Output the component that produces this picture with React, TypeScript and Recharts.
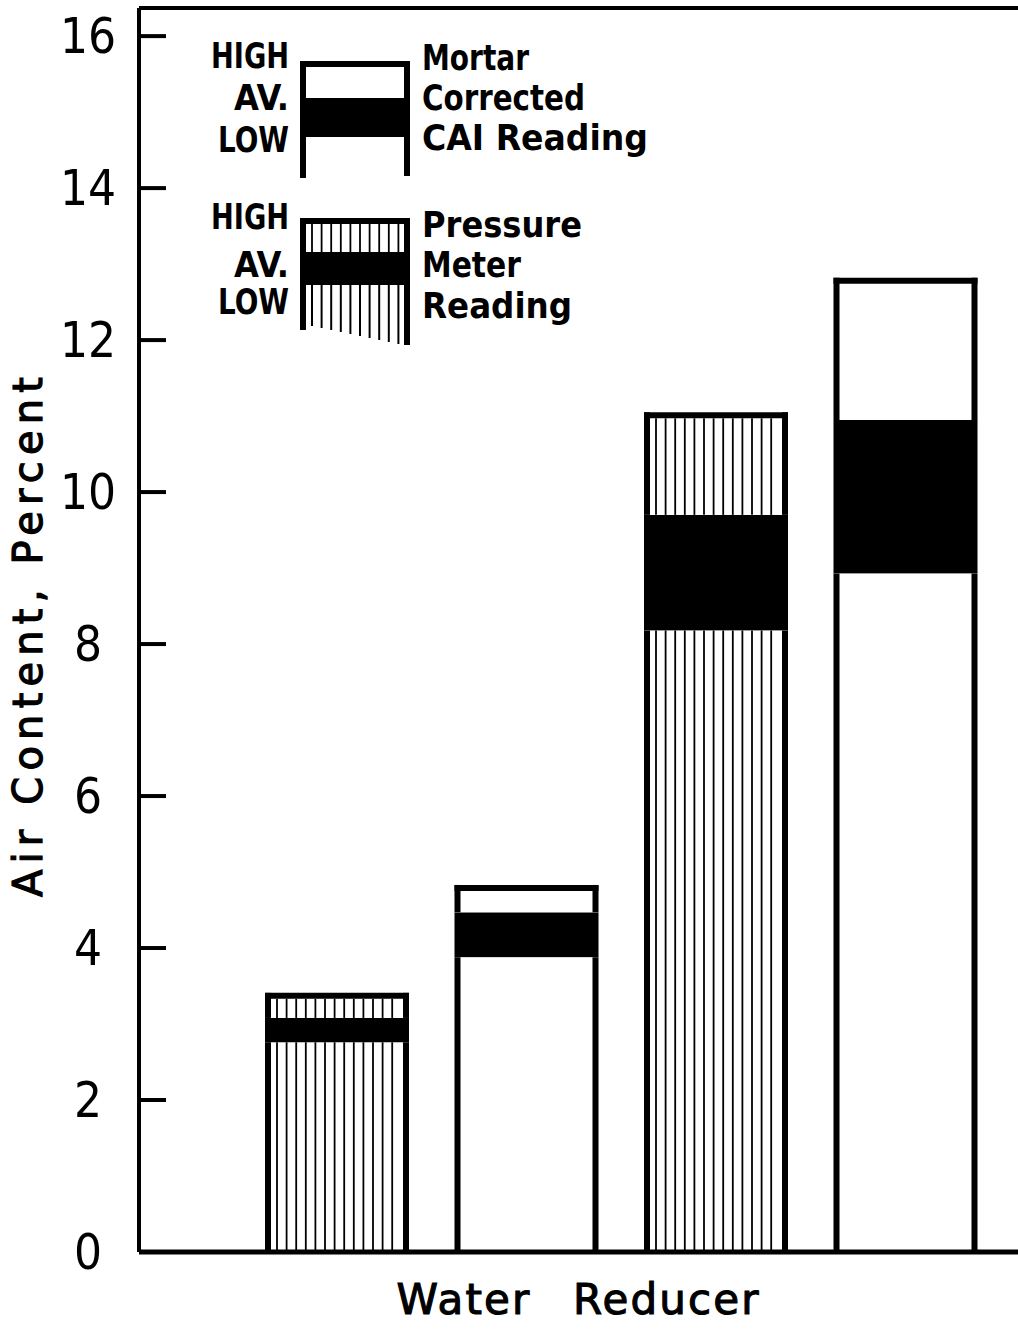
import { Bar, BarChart, Label, Legend, ReferenceLine, XAxis, YAxis } from "recharts"

// four water-reducer samples, alternating test method
const samples = ["1", "2", "3", "4"]
const methods = ["pressure", "mortar", "pressure", "mortar"]
const lowValues = [2.76, 3.88, 8.18, 8.93]
const avValues = [3.08, 4.47, 9.7, 10.95]
const highValues = [3.41, 4.83, 11.05, 12.82]
const yTicks = [0, 2, 4, 6, 8, 10, 12, 14, 16]

const Y_MAX = 16.37
const AXIS_X = 139
const INK = "#000"
const EDGE = 6
const NUM_FONT = "'DejaVu Sans Condensed', 'DejaVu Sans', sans-serif"
const TITLE_FONT = "'DejaVu Sans', sans-serif"
const NARROW_FONT = "'DejaVu Sans Condensed', 'DejaVu Sans', sans-serif"

const data = samples.map((s, i) => ({
  sample: s,
  method: methods[i],
  low: lowValues[i],
  band: avValues[i] - lowValues[i],
  upper: highValues[i] - avValues[i],
}))

function hatch(x: number, y: number, w: number, h: number, keyBase: string) {
  const out = []
  let n = 0
  for (let lx = x + 6; lx < x + w - 3; lx += 9.6) {
    out.push(
      <line key={keyBase + n++} x1={lx} x2={lx} y1={y} y2={y + h} stroke={INK} strokeWidth={1.8} />
    )
  }
  return out
}

function LowerShape(props: any) {
  const { x, y, width, height, payload } = props
  return (
    <g>
      <rect x={x} y={y} width={width} height={height} fill="#fff" />
      {payload.method === "pressure" && hatch(x + EDGE, y, width - 2 * EDGE, height, "l")}
      <line x1={x + EDGE / 2} x2={x + EDGE / 2} y1={y} y2={y + height} stroke={INK} strokeWidth={EDGE} />
      <line x1={x + width - EDGE / 2} x2={x + width - EDGE / 2} y1={y} y2={y + height} stroke={INK} strokeWidth={EDGE} />
    </g>
  )
}

function BandShape(props: any) {
  const { x, y, width, height } = props
  return <rect x={x} y={y} width={width} height={height} fill={INK} />
}

function UpperShape(props: any) {
  const { x, y, width, height, payload } = props
  return (
    <g>
      <rect x={x} y={y} width={width} height={height} fill="#fff" />
      {payload.method === "pressure" && hatch(x + EDGE, y + EDGE, width - 2 * EDGE, height - EDGE, "u")}
      <line x1={x + EDGE / 2} x2={x + EDGE / 2} y1={y} y2={y + height} stroke={INK} strokeWidth={EDGE} />
      <line x1={x + width - EDGE / 2} x2={x + width - EDGE / 2} y1={y} y2={y + height} stroke={INK} strokeWidth={EDGE} />
      <line x1={x} x2={x + width} y1={y + EDGE / 2} y2={y + EDGE / 2} stroke={INK} strokeWidth={EDGE} />
    </g>
  )
}

function YTick(props: any) {
  const { y, payload } = props
  return (
    <g>
      <line x1={AXIS_X} x2={AXIS_X + 27} y1={y} y2={y} stroke={INK} strokeWidth={4} />
      <text x={88} y={y} textAnchor="middle" dominantBaseline="central" fontSize={49} fontFamily={NUM_FONT} fill={INK}>
        {payload.value}
      </text>
    </g>
  )
}

function renderXTitle(props: any) {
  const vb = props.viewBox
  return (
    <text
      x={vb.x + vb.width / 2 - 1}
      y={vb.y + 47}
      textAnchor="middle"
      dominantBaseline="central"
      fontSize={42}
      fontFamily={TITLE_FONT}
      textLength={362}
      lengthAdjust="spacing"
      stroke={INK}
      strokeWidth={1.1}
      style={{ wordSpacing: 26 }}
      fill={INK}
    >
      Water Reducer
    </text>
  )
}

function renderYTitle() {
  return (
    <text
      x={28}
      y={637}
      transform="rotate(-90 28 637)"
      textAnchor="middle"
      dominantBaseline="central"
      fontSize={40}
      fontFamily={TITLE_FONT}
      textLength={520}
      lengthAdjust="spacing"
      stroke={INK}
      strokeWidth={1.2}
      fill={INK}
    >
      Air Content, Percent
    </text>
  )
}

// legend labels: [text, x, y, width, anchor]
const legendLabels: [string, number, number, number, "start" | "end"][] = [
  ["HIGH", 289, 56, 78, "end"],
  ["AV.", 289, 98, 55, "end"],
  ["LOW", 289, 140, 71, "end"],
  ["HIGH", 289, 217, 78, "end"],
  ["AV.", 289, 265, 55, "end"],
  ["LOW", 289, 302, 71, "end"],
  ["Mortar", 422, 58, 107, "start"],
  ["Corrected", 422, 98, 163, "start"],
  ["CAI Reading", 422, 138, 226, "start"],
  ["Pressure", 422, 225, 160, "start"],
  ["Meter", 422, 265, 99, "start"],
  ["Reading", 422, 306, 150, "start"],
]

function LegendBlock() {
  const lower = [0, 1, 2, 3, 4, 5, 6, 7, 8, 9]
  return (
    <svg width={700} height={360} style={{ display: "block" }}>
      {/* mortar swatch */}
      <line x1={300} x2={410} y1={64} y2={64} stroke={INK} strokeWidth={EDGE} />
      <line x1={303} x2={303} y1={61} y2={178} stroke={INK} strokeWidth={EDGE} />
      <line x1={407} x2={407} y1={61} y2={176} stroke={INK} strokeWidth={EDGE} />
      <rect x={300} y={98} width={110} height={39} fill={INK} />
      {/* pressure meter swatch */}
      {hatch(306, 224, 98, 28, "a")}
      {lower.map((i) => (
        <line key={"b" + i} x1={312 + i * 9.6} x2={312 + i * 9.6} y1={285} y2={326 + i * 2} stroke={INK} strokeWidth={2} />
      ))}
      <line x1={300} x2={410} y1={221} y2={221} stroke={INK} strokeWidth={EDGE} />
      <line x1={303} x2={303} y1={218} y2={330} stroke={INK} strokeWidth={EDGE} />
      <line x1={407} x2={407} y1={218} y2={345} stroke={INK} strokeWidth={EDGE} />
      <rect x={300} y={252} width={110} height={33} fill={INK} />

      {legendLabels.map(([t, x, y, w, anchor], i) => (
        <text
          key={i}
          x={x}
          y={y}
          textAnchor={anchor}
          dominantBaseline="central"
          fontFamily={NARROW_FONT}
          fontWeight={700}
          fontSize={35}
          textLength={w}
          lengthAdjust="spacingAndGlyphs"
          fill={INK}
        >
          {t}
        </text>
      ))}
    </svg>
  )
}

export default function App() {
  return (
    <div style={{ position: "absolute", left: 0, top: 0, width: 1018, height: 1330, background: "#fff" }}>
      <BarChart width={1018} height={1330} data={data} margin={{ top: 8, right: 0, left: 0, bottom: 0 }}>
        <XAxis
          dataKey="sample"
          tick={false}
          tickLine={false}
          height={78}
          padding={{ left: 103, right: 18 }}
          axisLine={{ stroke: INK, strokeWidth: 5 }}
        >
          <Label content={renderXTitle} />
        </XAxis>
        <YAxis
          width={AXIS_X}
          domain={[0, Y_MAX]}
          ticks={yTicks}
          interval={0}
          tickLine={false}
          tickSize={0}
          tick={<YTick />}
          axisLine={{ stroke: INK, strokeWidth: 4 }}
        >
          <Label content={renderYTitle} />
        </YAxis>
        <ReferenceLine y={Y_MAX} stroke={INK} strokeWidth={4} />
        <Legend
          layout="vertical"
          align="center"
          verticalAlign="middle"
          content={<LegendBlock />}
          wrapperStyle={{ left: 0, top: 0, width: 700, height: 360 }}
        />
        <Bar dataKey="low" stackId="a" barSize={144} shape={<LowerShape />} isAnimationActive={false} />
        <Bar dataKey="band" stackId="a" barSize={144} shape={<BandShape />} isAnimationActive={false} />
        <Bar dataKey="upper" stackId="a" barSize={144} shape={<UpperShape />} isAnimationActive={false} />
      </BarChart>
    </div>
  )
}
